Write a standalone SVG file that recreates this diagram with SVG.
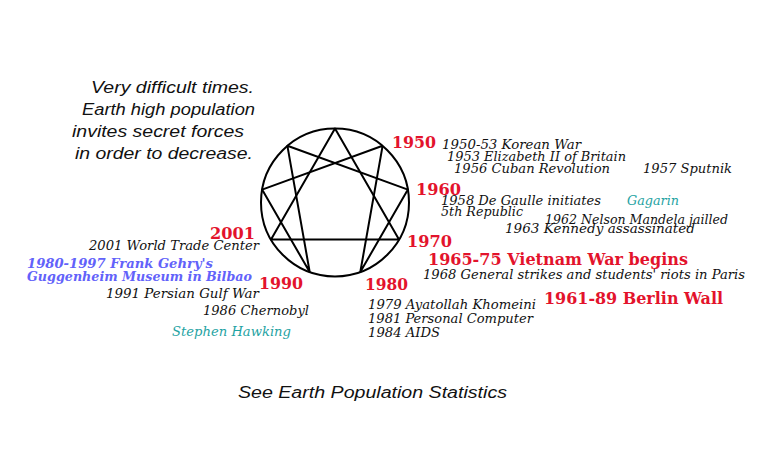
<svg xmlns="http://www.w3.org/2000/svg" width="770" height="450" viewBox="0 0 770 450">
<style>
.hand{font-family:"Liberation Sans","DejaVu Sans",sans-serif;font-style:italic;font-size:16px;fill:#111;font-weight:normal}
.yr{font-family:"DejaVu Serif","Liberation Serif",serif;font-weight:bold;font-size:16px;fill:#e3132c}
.ev{font-family:"DejaVu Serif","Liberation Serif",serif;font-style:italic;font-size:12.5px;fill:#111}
.big{font-family:"DejaVu Serif","Liberation Serif",serif;font-weight:bold;font-size:16px;fill:#e3132c}
.blue{font-family:"DejaVu Serif","Liberation Serif",serif;font-weight:bold;font-style:italic;font-size:12.5px;fill:#6262fa}
.teal{font-family:"DejaVu Serif","Liberation Serif",serif;font-style:italic;font-size:12.5px;fill:#1fa3a3}
.fig{fill:none;stroke:#000;stroke-width:2;stroke-linejoin:round}
</style>
<rect width="770" height="450" fill="#fff"/>
<g id="enneagram">
<circle class="fig" cx="335" cy="202.5" r="74"/>
<polygon class="fig" points="335,128.5 399,239.5 271,239.5"/>
<polyline class="fig" points="382.6,145.8 360.3,272 407.9,189.6 287.4,145.8 309.7,272 262.1,189.6 382.6,145.8"/>
</g>
<g id="note">
<text class="hand" x="91" y="93" textLength="163" lengthAdjust="spacingAndGlyphs">Very difficult times.</text>
<text class="hand" x="82" y="115" textLength="173" lengthAdjust="spacingAndGlyphs">Earth high population</text>
<text class="hand" x="72" y="137" textLength="172" lengthAdjust="spacingAndGlyphs">invites secret forces</text>
<text class="hand" x="75" y="159" textLength="178" lengthAdjust="spacingAndGlyphs">in order to decrease.</text>
</g>
<g id="y1950">
<text class="yr" x="392" y="148" textLength="44" lengthAdjust="spacingAndGlyphs">1950</text>
<text class="ev" x="442" y="149" textLength="139" lengthAdjust="spacingAndGlyphs">1950-53 Korean War</text>
<text class="ev" x="447" y="161" textLength="179" lengthAdjust="spacingAndGlyphs">1953 Elizabeth II of Britain</text>
<text class="ev" x="454" y="173" textLength="156" lengthAdjust="spacingAndGlyphs">1956 Cuban Revolution</text>
<text class="ev" x="643" y="173" textLength="89" lengthAdjust="spacingAndGlyphs">1957 Sputnik</text>
</g>
<g id="y1960">
<text class="yr" x="416" y="195" textLength="45" lengthAdjust="spacingAndGlyphs">1960</text>
<text class="ev" x="441" y="205" textLength="160" lengthAdjust="spacingAndGlyphs">1958 De Gaulle initiates</text>
<text class="teal" x="627" y="205" textLength="52" lengthAdjust="spacingAndGlyphs">Gagarin</text>
<text class="ev" x="441" y="216" textLength="82" lengthAdjust="spacingAndGlyphs">5th Republic</text>
<text class="ev" x="545" y="224" textLength="183" lengthAdjust="spacingAndGlyphs">1962 Nelson Mandela jailled</text>
<text class="ev" x="505" y="233" textLength="190" lengthAdjust="spacingAndGlyphs">1963 Kennedy assassinated</text>
</g>
<g id="y1970">
<text class="yr" x="407" y="247" textLength="45" lengthAdjust="spacingAndGlyphs">1970</text>
<text class="big" x="428" y="265" textLength="260" lengthAdjust="spacingAndGlyphs">1965-75 Vietnam War begins</text>
<text class="ev" x="423" y="279" textLength="322" lengthAdjust="spacingAndGlyphs">1968 General strikes and students' riots in Paris</text>
<text class="big" x="544" y="304" textLength="179" lengthAdjust="spacingAndGlyphs">1961-89 Berlin Wall</text>
</g>
<g id="y1980">
<text class="yr" x="365" y="290" textLength="43" lengthAdjust="spacingAndGlyphs">1980</text>
<text class="ev" x="368" y="309" textLength="168" lengthAdjust="spacingAndGlyphs">1979 Ayatollah Khomeini</text>
<text class="ev" x="368" y="323" textLength="165" lengthAdjust="spacingAndGlyphs">1981 Personal Computer</text>
<text class="ev" x="368" y="337" textLength="72" lengthAdjust="spacingAndGlyphs">1984 AIDS</text>
</g>
<g id="y1990">
<text class="yr" x="259" y="289" textLength="44" lengthAdjust="spacingAndGlyphs">1990</text>
<text class="ev" x="106" y="298" textLength="153" lengthAdjust="spacingAndGlyphs">1991 Persian Gulf War</text>
<text class="ev" x="203" y="315" textLength="106" lengthAdjust="spacingAndGlyphs">1986 Chernobyl</text>
<text class="teal" x="172" y="336" textLength="119" lengthAdjust="spacingAndGlyphs">Stephen Hawking</text>
</g>
<g id="y2001">
<text class="yr" x="210" y="239" textLength="45" lengthAdjust="spacingAndGlyphs">2001</text>
<text class="ev" x="89" y="250" textLength="170" lengthAdjust="spacingAndGlyphs">2001 World Trade Center</text>
<text class="blue" x="27" y="268" textLength="186" lengthAdjust="spacingAndGlyphs">1980-1997 Frank Gehry's</text>
<text class="blue" x="27" y="281" textLength="225" lengthAdjust="spacingAndGlyphs">Guggenheim Museum in Bilbao</text>
</g>
<g id="footer">
<text class="hand" x="238" y="398" textLength="269" lengthAdjust="spacingAndGlyphs">See Earth Population Statistics</text>
</g>
</svg>
